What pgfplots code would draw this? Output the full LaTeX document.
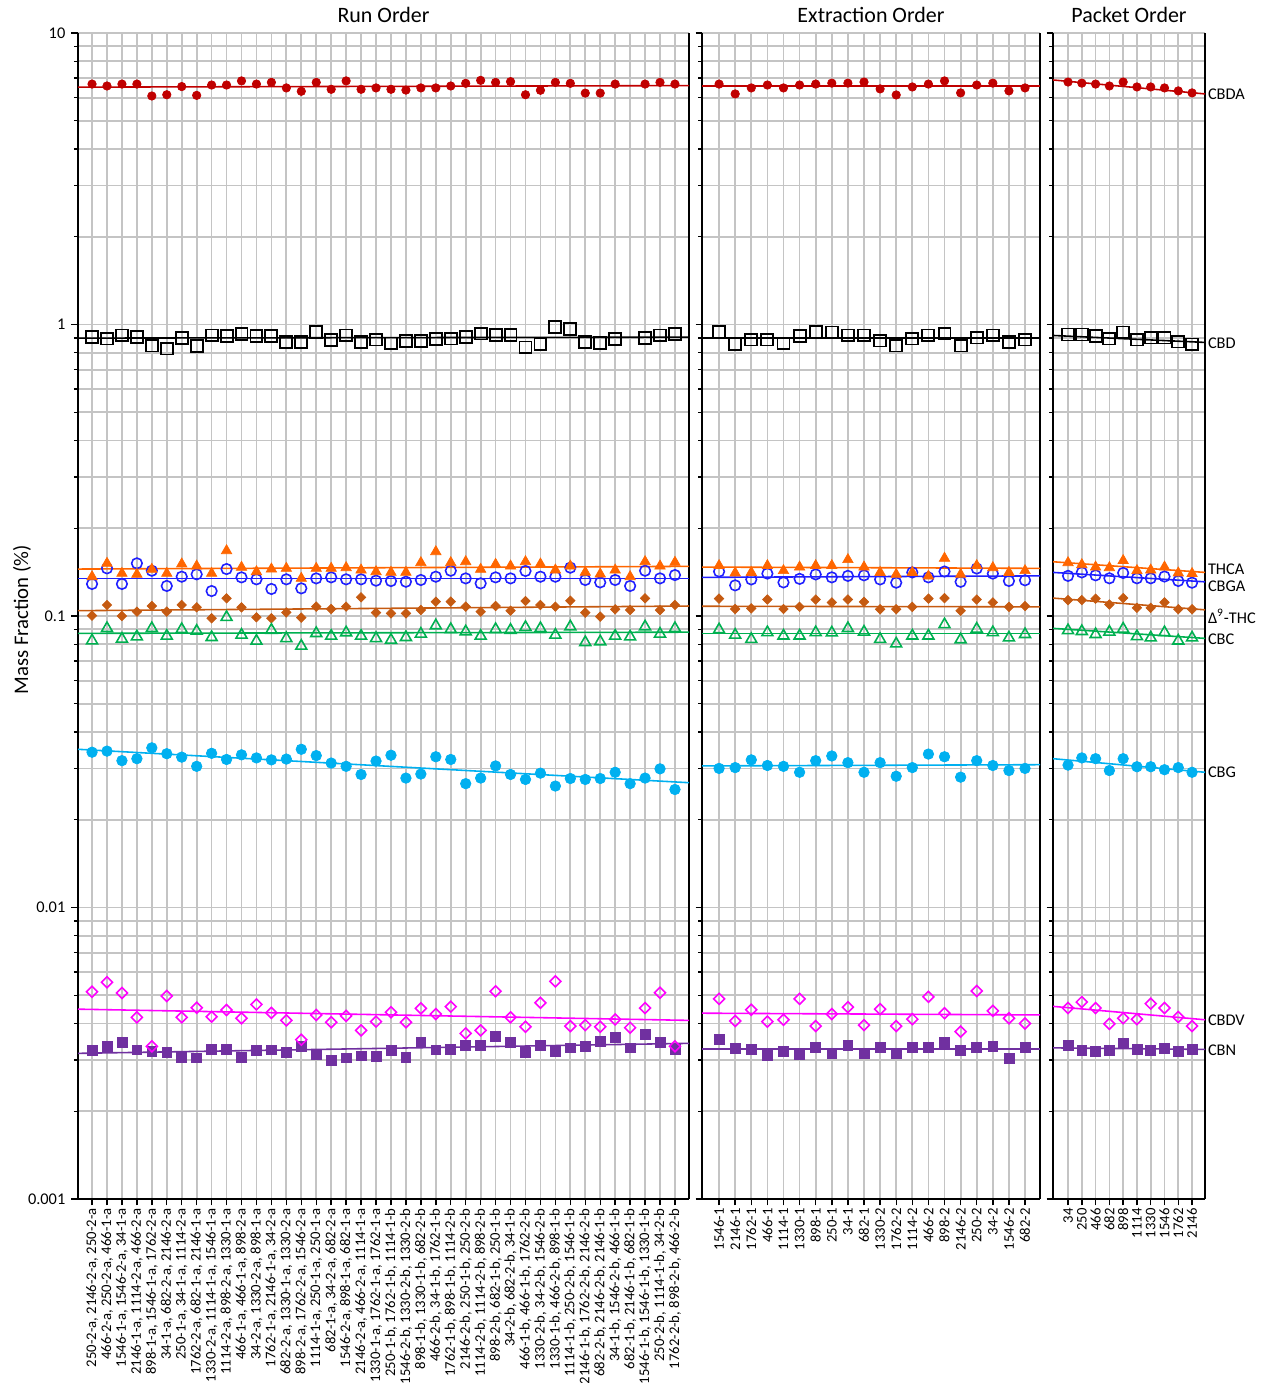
\documentclass[border=0pt]{standalone}
\usepackage{fontspec}
\setmainfont{Carlito}
\usepackage{pgfplots}
\usepackage{pgfplotstable}
\pgfplotsset{compat=1.18}

\definecolor{cCBDA}{HTML}{C00000}
\definecolor{cTHCA}{HTML}{FF6600}
\definecolor{cCBGA}{HTML}{1F1FFF}
\definecolor{cTHC}{HTML}{C55A11}
\definecolor{cCBC}{HTML}{00B050}
\definecolor{cCBG}{HTML}{00B0F0}
\definecolor{cCBDV}{HTML}{FF00FF}
\definecolor{cCBN}{HTML}{7030A0}
\definecolor{gridc}{HTML}{C4C4C4}

% run order (40 runs, CBDA/CBD missing at 37)
\pgfplotstableread{
x  cbda  cbd   thca   cbga   thc    cbc    cbg    cbdv    cbn
1  6.68  0.907 0.1364 0.1288 0.1003 0.0823 0.0341 0.00514 0.00323
2  6.58  0.895 0.1516 0.1457 0.1091 0.0907 0.0344 0.00554 0.00335
3  6.68  0.917 0.1400 0.1288 0.1000 0.0834 0.0319 0.00509 0.00344
4  6.68  0.905 0.1390 0.1516 0.1035 0.0849 0.0324 0.00420 0.00325
5  6.08  0.847 0.1446 0.1430 0.1082 0.0907 0.0353 0.00334 0.00320
6  6.14  0.827 0.1400 0.1268 0.1035 0.0854 0.0337 0.00497 0.00318
7  6.55  0.900 0.1508 0.1364 0.1091 0.0900 0.0328 0.00420 0.00307
8  6.11  0.845 0.1484 0.1390 0.1071 0.0888 0.0305 0.00453 0.00305
9  6.63  0.917 0.1400 0.1218 0.0982 0.0845 0.0338 0.00422 0.00327
10 6.63  0.910 0.1675 0.1449 0.1150 0.0990 0.0322 0.00445 0.00327
11 6.85  0.926 0.1469 0.1357 0.1071 0.0861 0.0334 0.00417 0.00306
12 6.68  0.912 0.1419 0.1336 0.0990 0.0821 0.0326 0.00465 0.00324
13 6.77  0.910 0.1449 0.1238 0.0982 0.0895 0.0321 0.00435 0.00325
14 6.48  0.872 0.1457 0.1336 0.1029 0.0838 0.0323 0.00410 0.00318
15 6.31  0.868 0.1346 0.1244 0.0987 0.0789 0.0349 0.00352 0.00335
16 6.77  0.941 0.1457 0.1346 0.1077 0.0872 0.0332 0.00428 0.00313
17 6.41  0.884 0.1457 0.1357 0.1057 0.0854 0.0313 0.00404 0.00300
18 6.85  0.917 0.1465 0.1336 0.1077 0.0877 0.0305 0.00425 0.00305
19 6.41  0.868 0.1438 0.1336 0.1159 0.0854 0.0286 0.00379 0.00310
20 6.48  0.888 0.1419 0.1322 0.1027 0.0838 0.0318 0.00406 0.00309
21 6.41  0.861 0.1412 0.1318 0.1021 0.0827 0.0333 0.00437 0.00323
22 6.37  0.877 0.1412 0.1311 0.1021 0.0845 0.0278 0.00404 0.00307
23 6.48  0.877 0.1524 0.1329 0.1048 0.0868 0.0287 0.00451 0.00345
24 6.48  0.893 0.1662 0.1364 0.1120 0.0927 0.0329 0.00431 0.00325
25 6.58  0.895 0.1524 0.1430 0.1120 0.0900 0.0322 0.00457 0.00327
26 6.72  0.905 0.1536 0.1346 0.1077 0.0884 0.0266 0.00370 0.00337
27 6.88  0.931 0.1446 0.1294 0.1035 0.0854 0.0278 0.00379 0.00336
28 6.77  0.919 0.1504 0.1357 0.1082 0.0900 0.0306 0.00516 0.00361
29 6.81  0.919 0.1484 0.1346 0.1043 0.0895 0.0286 0.00420 0.00344
30 6.14  0.834 0.1536 0.1427 0.1126 0.0915 0.0275 0.00390 0.00318
31 6.36  0.856 0.1508 0.1364 0.1091 0.0907 0.0289 0.00471 0.00337
32 6.77  0.979 0.1438 0.1364 0.1077 0.0861 0.0261 0.00558 0.00321
33 6.72  0.966 0.1484 0.1465 0.1129 0.0919 0.0277 0.00392 0.00330
34 6.22  0.868 0.1412 0.1329 0.1027 0.0812 0.0275 0.00395 0.00335
35 6.22  0.863 0.1393 0.1304 0.0995 0.0817 0.0277 0.00390 0.00347
36 6.68  0.890 0.1438 0.1329 0.1054 0.0854 0.0291 0.00413 0.00359
37 nan   nan   0.1364 0.1268 0.1048 0.0849 0.0266 0.00387 0.00330
38 6.68  0.900 0.1536 0.1430 0.1150 0.0919 0.0278 0.00452 0.00368
39 6.77  0.917 0.1484 0.1346 0.1048 0.0868 0.0299 0.00510 0.00344
40 6.68  0.926 0.1528 0.1382 0.1091 0.0907 0.0254 0.00334 0.00327
}\runtab

% extraction order (20)
\pgfplotstableread{
x  cbda  cbd   thca   cbga   thc    cbc    cbg    cbdv    cbn
1  6.68  0.946 0.1489 0.1421 0.1147 0.0898 0.0300 0.00486 0.00354
2  6.18  0.854 0.1405 0.1274 0.1057 0.0861 0.0302 0.00408 0.00328
3  6.48  0.888 0.1411 0.1335 0.1062 0.0832 0.0321 0.00446 0.00326
4  6.63  0.888 0.1489 0.1398 0.1139 0.0878 0.0307 0.00406 0.00311
5  6.48  0.861 0.1431 0.1304 0.1057 0.0855 0.0305 0.00412 0.00322
6  6.63  0.910 0.1472 0.1341 0.1075 0.0855 0.0291 0.00486 0.00313
7  6.68  0.946 0.1489 0.1389 0.1139 0.0878 0.0319 0.00392 0.00332
8  6.73  0.939 0.1489 0.1357 0.1113 0.0876 0.0331 0.00431 0.00315
9  6.73  0.917 0.1561 0.1373 0.1139 0.0907 0.0314 0.00455 0.00337
10 6.79  0.917 0.1472 0.1379 0.1118 0.0882 0.0291 0.00395 0.00315
11 6.43  0.881 0.1411 0.1335 0.1055 0.0832 0.0314 0.00448 0.00331
12 6.13  0.847 0.1389 0.1301 0.1055 0.0803 0.0282 0.00392 0.00315
13 6.53  0.895 0.1411 0.1411 0.1075 0.0855 0.0302 0.00414 0.00331
14 6.68  0.917 0.1370 0.1357 0.1147 0.0855 0.0336 0.00494 0.00331
15 6.85  0.931 0.1578 0.1421 0.1152 0.0935 0.0329 0.00434 0.00345
16 6.23  0.847 0.1389 0.1310 0.1043 0.0830 0.0280 0.00375 0.00324
17 6.63  0.902 0.1489 0.1455 0.1139 0.0903 0.0319 0.00517 0.00331
18 6.73  0.917 0.1465 0.1398 0.1113 0.0878 0.0307 0.00442 0.00334
19 6.33  0.868 0.1411 0.1319 0.1075 0.0842 0.0295 0.00417 0.00303
20 6.48  0.888 0.1431 0.1326 0.1082 0.0865 0.0300 0.00400 0.00332
}\exttab

% packet order (10)
\pgfplotstableread{
x  cbda  cbd   thca   cbga   thc    cbc    cbg    cbdv    cbn
1  6.79  0.924 0.1524 0.1373 0.1134 0.0892 0.0308 0.00452 0.00337
2  6.73  0.924 0.1500 0.1411 0.1134 0.0886 0.0326 0.00474 0.00324
3  6.68  0.910 0.1472 0.1379 0.1147 0.0865 0.0324 0.00452 0.00322
4  6.58  0.895 0.1465 0.1347 0.1095 0.0882 0.0295 0.00399 0.00324
5  6.79  0.939 0.1549 0.1405 0.1152 0.0903 0.0324 0.00417 0.00341
6  6.53  0.888 0.1431 0.1347 0.1067 0.0851 0.0304 0.00414 0.00326
7  6.53  0.902 0.1438 0.1347 0.1067 0.0842 0.0304 0.00468 0.00324
8  6.48  0.902 0.1472 0.1366 0.1113 0.0878 0.0297 0.00452 0.00328
9  6.33  0.874 0.1405 0.1319 0.1055 0.0822 0.0302 0.00421 0.00322
10 6.23  0.854 0.1398 0.1301 0.1055 0.0842 0.0291 0.00392 0.00326
}\pkttab

\pgfplotsset{
  every axis/.append style={
    scale only axis, height=23.32cm,
    ymin=0.001, ymax=10,
    axis x line=bottom, axis y line=box,
    axis line style={-, black, line width=1pt},
    ytick pos=left, tick align=outside,
    major tick length=0.13cm, minor tick length=0.08cm,
    every tick/.style={black, line width=0.8pt},
    xmajorgrids, ymajorgrids, yminorgrids,
    major grid style={gridc, line width=1pt},
    minor grid style={gridc, line width=1pt},
    xticklabel style={rotate=90, anchor=east, font=\fontsize{8.35}{9}\selectfont, inner sep=1.5pt},
    yticklabel style={font=\fontsize{9.3}{10}\selectfont},
    clip mode=individual,
  },
  mCBDA/.style={only marks, mark=*, mark size=2.4pt, color=cCBDA},
  mCBD/.style={only marks, mark=square, mark size=3.4pt, color=black, mark options={line width=1.1pt}},
  mTHCA/.style={only marks, mark=triangle*, mark size=3.4pt, color=cTHCA},
  mCBGA/.style={only marks, mark=o, mark size=3pt, color=cCBGA, mark options={line width=0.9pt}},
  mTHC/.style={only marks, mark=square*, mark size=1.9pt, color=cTHC, mark options={rotate=45}},
  mCBC/.style={only marks, mark=triangle, mark size=3.6pt, color=cCBC, mark options={line width=0.9pt}},
  mCBG/.style={only marks, mark=*, mark size=3pt, color=cCBG},
  mCBDV/.style={only marks, mark=square, mark size=2.2pt, color=cCBDV, mark options={rotate=45, line width=0.9pt}},
  mCBN/.style={only marks, mark=square*, mark size=2.8pt, color=cCBN},
  tl/.style={no markers, line width=0.9pt},
}

\newcommand{\titlefont}{\fontsize{12.5}{14}\selectfont}
\newcommand{\lblfont}{\fontsize{9.3}{10}\selectfont}

\begin{document}
\begin{tikzpicture}
\path[use as bounding box] (-1.56,-3.68) rectangle (23.78,23.98);

% ---------------- Run Order
\begin{semilogyaxis}[at={(0,0)}, anchor=south west, width=12.22cm,
  xmin=0.06, xmax=40.94, xtick={1,...,40},
  yticklabels={{},0.001,0.01,0.1,1,10},
  xticklabels={
  {250-2-a, 2146-2-a, 250-2-a},{466-2-a, 250-2-a, 466-1-a},{1546-1-a, 1546-2-a, 34-1-a},
  {2146-1-a, 1114-2-a, 466-2-a},{898-1-a, 1546-1-a, 1762-2-a},{34-1-a, 682-2-a, 2146-2-a},
  {250-1-a, 34-1-a, 1114-2-a},{1762-2-a, 682-1-a, 2146-1-a},{1330-2-a, 1114-1-a, 1546-1-a},
  {1114-2-a, 898-2-a, 1330-1-a},{466-1-a, 466-1-a, 898-2-a},{34-2-a, 1330-2-a, 898-1-a},
  {1762-1-a, 2146-1-a, 34-2-a},{682-2-a, 1330-1-a, 1330-2-a},{898-2-a, 1762-2-a, 1546-2-a},
  {1114-1-a, 250-1-a, 250-1-a},{682-1-a, 34-2-a, 682-2-a},{1546-2-a, 898-1-a, 682-1-a},
  {2146-2-a, 466-2-a, 1114-1-a},{1330-1-a, 1762-1-a, 1762-1-a},{250-1-b, 1762-1-b, 1114-1-b},
  {1546-2-b, 1330-2-b, 1330-2-b},{898-1-b, 1330-1-b, 682-2-b},{466-2-b, 34-1-b, 1762-1-b},
  {1762-1-b, 898-1-b, 1114-2-b},{2146-2-b, 250-1-b, 250-2-b},{1114-2-b, 1114-2-b, 898-2-b},
  {898-2-b, 682-1-b, 250-1-b},{34-2-b, 682-2-b, 34-1-b},{466-1-b, 466-1-b, 1762-2-b},
  {1330-2-b, 34-2-b, 1546-2-b},{1330-1-b, 466-2-b, 898-1-b},{1114-1-b, 250-2-b, 1546-1-b},
  {2146-1-b, 1762-2-b, 2146-2-b},{682-2-b, 2146-2-b, 2146-1-b},{34-1-b, 1546-2-b, 466-1-b},
  {682-1-b, 2146-1-b, 682-1-b},{1546-1-b, 1546-1-b, 1330-1-b},{250-2-b, 1114-1-b, 34-2-b},
  {1762-2-b, 898-2-b, 466-2-b}},
]
\addplot[tl, cCBDA] coordinates {(0.06,6.52) (40.94,6.60)};
\addplot[tl, black] coordinates {(0.06,0.898) (40.94,0.905)};
\addplot[tl, cTHCA] coordinates {(0.06,0.1449) (40.94,0.148)};
\addplot[tl, cCBGA] coordinates {(0.06,0.1346) (40.94,0.1346)};
\addplot[tl, cTHC] coordinates {(0.06,0.1043) (40.94,0.1082)};
\addplot[tl, cCBC] coordinates {(0.06,0.0872) (40.94,0.088)};
\addplot[tl, cCBG] coordinates {(0.06,0.0349) (40.94,0.0268)};
\addplot[tl, cCBDV] coordinates {(0.06,0.00448) (40.94,0.0041)};
\addplot[tl, cCBN] coordinates {(0.06,0.00316) (40.94,0.00342)};
\addplot[mCBDA] table[x=x, y=cbda] {\runtab};
\addplot[mCBD]  table[x=x, y=cbd]  {\runtab};
\addplot[mTHC]  table[x=x, y=thc]  {\runtab};
\addplot[mCBC]  table[x=x, y=cbc]  {\runtab};
\addplot[mCBGA] table[x=x, y=cbga] {\runtab};
\addplot[mTHCA] table[x=x, y=thca] {\runtab};
\addplot[mCBG]  table[x=x, y=cbg]  {\runtab};
\addplot[mCBN]  table[x=x, y=cbn]  {\runtab};
\addplot[mCBDV] table[x=x, y=cbdv] {\runtab};
\node[font=\titlefont, yshift=0.36cm] at (rel axis cs:0.5,1) {Run Order};
\end{semilogyaxis}

% ---------------- Extraction Order
\begin{semilogyaxis}[at={(12.48cm,0)}, anchor=south west, width=6.76cm,
  xmin=-0.06, xmax=20.93, xtick={1,...,20},
  yticklabels={},
  xticklabels={1546-1,2146-1,1762-1,466-1,1114-1,1330-1,898-1,250-1,34-1,682-1,
    1330-2,1762-2,1114-2,466-2,898-2,2146-2,250-2,34-2,1546-2,682-2},
]
\addplot[tl, cCBDA] coordinates {(-0.06,6.58) (20.93,6.58)};
\addplot[tl, black] coordinates {(-0.06,0.90) (20.93,0.90)};
\addplot[tl, cTHCA] coordinates {(-0.06,0.1472) (20.93,0.1457)};
\addplot[tl, cCBGA] coordinates {(-0.06,0.1357) (20.93,0.1373)};
\addplot[tl, cTHC] coordinates {(-0.06,0.108) (20.93,0.1075)};
\addplot[tl, cCBC] coordinates {(-0.06,0.087) (20.93,0.087)};
\addplot[tl, cCBG] coordinates {(-0.06,0.0306) (20.93,0.0309)};
\addplot[tl, cCBDV] coordinates {(-0.06,0.00434) (20.93,0.00428)};
\addplot[tl, cCBN] coordinates {(-0.06,0.00327) (20.93,0.00327)};
\addplot[mCBDA] table[x=x, y=cbda] {\exttab};
\addplot[mCBD]  table[x=x, y=cbd]  {\exttab};
\addplot[mTHC]  table[x=x, y=thc]  {\exttab};
\addplot[mCBC]  table[x=x, y=cbc]  {\exttab};
\addplot[mCBGA] table[x=x, y=cbga] {\exttab};
\addplot[mTHCA] table[x=x, y=thca] {\exttab};
\addplot[mCBG]  table[x=x, y=cbg]  {\exttab};
\addplot[mCBN]  table[x=x, y=cbn]  {\exttab};
\addplot[mCBDV] table[x=x, y=cbdv] {\exttab};
\node[font=\titlefont, yshift=0.36cm] at (rel axis cs:0.5,1) {Extraction Order};
\end{semilogyaxis}

% ---------------- Packet Order
\begin{semilogyaxis}[at={(19.5cm,0)}, anchor=south west, width=3.04cm,
  xmin=-0.09, xmax=10.94, xtick={1,...,10},
  yticklabels={},
  xticklabels={34,250,466,682,898,1114,1330,1546,1762,2146},
]
\addplot[tl, cCBDA] coordinates {(-0.09,6.9) (10.94,6.18)};
\addplot[tl, black] coordinates {(-0.09,0.917) (10.94,0.868)};
\addplot[tl, cTHCA] coordinates {(-0.09,0.1535) (10.94,0.1411)};
\addplot[tl, cCBGA] coordinates {(-0.09,0.1411) (10.94,0.131)};
\addplot[tl, cTHC] coordinates {(-0.09,0.1152) (10.94,0.105)};
\addplot[tl, cCBC] coordinates {(-0.09,0.0907) (10.94,0.0838)};
\addplot[tl, cCBG] coordinates {(-0.09,0.0324) (10.94,0.0291)};
\addplot[tl, cCBDV] coordinates {(-0.09,0.00458) (10.94,0.00412)};
\addplot[tl, cCBN] coordinates {(-0.09,0.0033) (10.94,0.00326)};
\addplot[mCBDA] table[x=x, y=cbda] {\pkttab};
\addplot[mCBD]  table[x=x, y=cbd]  {\pkttab};
\addplot[mTHC]  table[x=x, y=thc]  {\pkttab};
\addplot[mCBC]  table[x=x, y=cbc]  {\pkttab};
\addplot[mCBGA] table[x=x, y=cbga] {\pkttab};
\addplot[mTHCA] table[x=x, y=thca] {\pkttab};
\addplot[mCBG]  table[x=x, y=cbg]  {\pkttab};
\addplot[mCBN]  table[x=x, y=cbn]  {\pkttab};
\addplot[mCBDV] table[x=x, y=cbdv] {\pkttab};
\node[font=\titlefont, yshift=0.36cm] at (rel axis cs:0.5,1) {Packet Order};
\begin{scope}[every node/.style={anchor=west, font=\lblfont, inner sep=1.5pt}]
\node at (axis cs:10.94,6.18) {CBDA};
\node at (axis cs:10.94,0.86) {CBD};
\node at (axis cs:10.94,0.1447) {THCA};
\node at (axis cs:10.94,0.1268) {CBGA};
\node at (axis cs:10.94,0.1) {Δ\textsuperscript{9}-THC};
\node at (axis cs:10.94,0.0834) {CBC};
\node at (axis cs:10.94,0.0291) {CBG};
\node at (axis cs:10.94,0.0041) {CBDV};
\node at (axis cs:10.94,0.00323) {CBN};
\end{scope}
\end{semilogyaxis}

\node[rotate=90, font=\fontsize{11.8}{13}\selectfont] at (-1.12,11.58) {Mass Fraction (\%)};
\end{tikzpicture}
\end{document}
